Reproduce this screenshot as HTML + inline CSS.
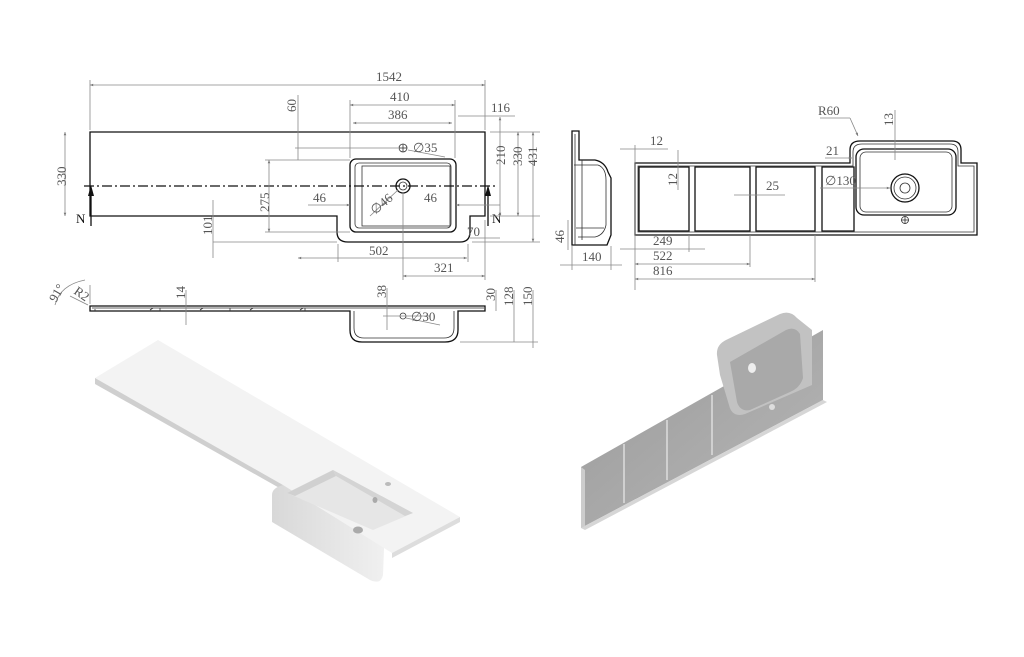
<!DOCTYPE html>
<html><head><meta charset="utf-8"><style>
html,body{margin:0;padding:0;background:#fff;}
svg{display:block;}
text{font-family:"Liberation Serif",serif;font-size:13px;fill:#555;}
.d{stroke:#888;stroke-width:0.8;fill:none;}
.o{stroke:#111;stroke-width:1.3;fill:none;}
.t{stroke:#333;stroke-width:0.8;fill:none;}
</style></head><body>
<svg width="1024" height="657" viewBox="0 0 1024 657" xmlns="http://www.w3.org/2000/svg">
<defs>
<marker id="a" viewBox="0 0 10 10" refX="10" refY="5" markerWidth="6" markerHeight="4" orient="auto-start-reverse"><path d="M0,1L10,5L0,9z" fill="#777"/></marker>
<linearGradient id="g1" x1="0" y1="0" x2="1" y2="0"><stop offset="0" stop-color="#d8d8d8"/><stop offset="1" stop-color="#f0f0f0"/></linearGradient>
<linearGradient id="g2" x1="0" y1="0" x2="1" y2="1"><stop offset="0" stop-color="#999"/><stop offset="1" stop-color="#b8b8b8"/></linearGradient>
</defs>

<!-- TOP PLAN VIEW -->
<path class="o" d="M90,132 H485 V216 H470 V232 Q470,242 460,242 H348 Q337,242 337,232 V216 H90 Z"/>
<rect class="o" x="350" y="159" width="106" height="73" rx="6"/>
<rect class="t" x="355" y="163" width="96" height="65" rx="4"/>
<rect class="t" x="362" y="166" width="88" height="60"/>
<circle class="o" cx="403" cy="186" r="7"/><circle class="t" cx="403" cy="186" r="4"/>
<circle class="t" cx="403" cy="148" r="4"/><line class="t" x1="399" y1="148" x2="407" y2="148"/><line class="t" x1="403" y1="144" x2="403" y2="152"/>
<line x1="84" y1="186" x2="496" y2="186" stroke="#111" stroke-width="1.2" stroke-dasharray="10,3,2,3"/>
<path d="M91,226 V190" stroke="#111" stroke-width="1.3"/><path d="M88,196 L91,185 L94,196z" fill="#111"/>
<path d="M488,226 V190" stroke="#111" stroke-width="1.3"/><path d="M485,196 L488,185 L491,196z" fill="#111"/>
<text x="76" y="223" style="fill:#111">N</text><text x="492" y="223" style="fill:#111">N</text>
<!-- dims -->
<line class="d" x1="90" y1="80" x2="90" y2="130"/><line class="d" x1="485" y1="80" x2="485" y2="130"/>
<line class="d" x1="90" y1="85" x2="485" y2="85" marker-start="url(#a)" marker-end="url(#a)"/><text x="376" y="81">1542</text>
<line class="d" x1="350" y1="100" x2="350" y2="158"/><line class="d" x1="455" y1="100" x2="455" y2="158"/>
<line class="d" x1="350" y1="105" x2="455" y2="105" marker-start="url(#a)" marker-end="url(#a)"/><text x="390" y="101">410</text>
<line class="d" x1="353" y1="123" x2="452" y2="123" marker-start="url(#a)" marker-end="url(#a)"/><text x="388" y="119">386</text>
<line class="d" x1="458" y1="116" x2="515" y2="116"/><text x="491" y="112">116</text>
<line class="d" x1="298" y1="95" x2="298" y2="160"/><text transform="translate(296,112) rotate(-90)">60</text>
<line class="d" x1="295" y1="148" x2="398" y2="148"/>
<line class="d" x1="408" y1="150" x2="445" y2="157"/><text x="413" y="152">∅35</text>
<line class="d" x1="65" y1="132" x2="65" y2="216" marker-start="url(#a)" marker-end="url(#a)"/><text transform="translate(66,186) rotate(-90)">330</text>
<line class="d" x1="269" y1="160" x2="269" y2="232" marker-start="url(#a)" marker-end="url(#a)"/><text transform="translate(269,212) rotate(-90)">275</text>
<line class="d" x1="265" y1="160" x2="350" y2="160"/><line class="d" x1="265" y1="232" x2="350" y2="232"/>
<line class="d" x1="213" y1="200" x2="213" y2="258"/><line class="d" x1="213" y1="242" x2="337" y2="242"/><text transform="translate(212,235) rotate(-90)">101</text>
<line class="d" x1="308" y1="205" x2="350" y2="205" marker-end="url(#a)"/><text x="313" y="202">46</text>
<line class="d" x1="456" y1="205" x2="500" y2="205" marker-start="url(#a)"/><text x="424" y="202">46</text>
<line class="d" x1="370" y1="216" x2="398" y2="190"/><text transform="translate(375,215) rotate(-40)">∅46</text>
<line class="d" x1="298" y1="258" x2="467" y2="258" marker-start="url(#a)" marker-end="url(#a)"/><line class="d" x1="338" y1="244" x2="338" y2="262"/><line class="d" x1="468" y1="244" x2="468" y2="262"/><text x="369" y="255">502</text>
<line class="d" x1="403" y1="192" x2="403" y2="280"/><line class="d" x1="485" y1="220" x2="485" y2="280"/>
<line class="d" x1="403" y1="276" x2="485" y2="276" marker-start="url(#a)" marker-end="url(#a)"/><text x="434" y="272">321</text>
<line class="d" x1="470" y1="238" x2="500" y2="238"/><text x="467" y="236">70</text>
<line class="d" x1="500" y1="117" x2="500" y2="216" marker-start="url(#a)" marker-end="url(#a)"/><text transform="translate(505,165) rotate(-90)">210</text>
<line class="d" x1="518" y1="132" x2="518" y2="216" marker-start="url(#a)" marker-end="url(#a)"/><text transform="translate(522,166) rotate(-90)">330</text>
<line class="d" x1="533" y1="132" x2="533" y2="242" marker-start="url(#a)" marker-end="url(#a)"/><text transform="translate(537,166) rotate(-90)">431</text>
<line class="d" x1="490" y1="132" x2="540" y2="132"/><line class="d" x1="490" y1="216" x2="540" y2="216"/><line class="d" x1="472" y1="242" x2="540" y2="242"/>

<!-- SIDE VIEW -->
<path class="o" d="M90,306 H485 V311 H458 V330 Q458,342 445,342 H362 Q350,342 350,330 V311 H90 Z"/>
<path class="t" d="M92,308 H484 M95,311 V309 M150,310 l3,-2 M200,310 l3,-2 M250,310 l3,-2 M300,310 l3,-2 M160,311 v-3 M230,311 v-3 M305,311 v-3"/>
<path class="t" d="M354,311 V328 Q354,338 364,338 H444 Q454,338 454,328 V311"/>
<circle class="t" cx="403" cy="316" r="3"/>
<line class="d" x1="90" y1="285" x2="90" y2="304"/><path class="d" d="M55,305 Q60,285 85,280"/>
<line class="d" x1="70" y1="296" x2="88" y2="305"/>
<text transform="translate(56,303) rotate(-60)">91°</text><text transform="translate(73,293) rotate(35)">R2</text>
<line class="d" x1="186" y1="290" x2="186" y2="325"/><text transform="translate(185,299) rotate(-90)">14</text>
<line class="d" x1="387" y1="288" x2="387" y2="330"/><text transform="translate(386,298) rotate(-90)">38</text>
<line class="d" x1="383" y1="316" x2="430" y2="316"/><line class="d" x1="406" y1="318" x2="440" y2="325"/><text x="411" y="321">∅30</text>
<line class="d" x1="496" y1="290" x2="496" y2="311"/><text transform="translate(495,301) rotate(-90)">30</text>
<line class="d" x1="514" y1="290" x2="514" y2="342"/><text transform="translate(513,306) rotate(-90)">128</text>
<line class="d" x1="533" y1="290" x2="533" y2="348"/><text transform="translate(532,306) rotate(-90)">150</text>
<line class="d" x1="460" y1="342" x2="538" y2="342"/>

<!-- RIGHT SECTION -->
<path class="o" d="M572,131 H579 V160 H595 Q605,162 608,172 L611,178 V235 L607,245 H572 Z"/>
<path class="t" d="M575,134 V245 M574,165 H598 Q606,168 606,180 V225 Q604,235 595,237 H578 M582,160 V240 M576,228 H604"/>
<line class="d" x1="568" y1="220" x2="568" y2="250"/><text transform="translate(564,243) rotate(-90)">46</text>
<line class="d" x1="572" y1="246" x2="572" y2="270"/><line class="d" x1="611" y1="246" x2="611" y2="270"/>
<line class="d" x1="560" y1="265" x2="622" y2="265"/><text x="582" y="261">140</text>

<!-- RIGHT PLAN -->
<path class="o" d="M635,163 H850 V150 Q850,141 860,141 H952 Q961,141 961,150 V163 H977 V235 H635 Z"/>
<path class="t" d="M638,166 H853 V152 Q853,144 862,144 H950 Q958,144 958,152 V166 H974 V232 H638 Z"/>
<rect class="o" x="639" y="167" width="50" height="64"/>
<rect class="o" x="695" y="167" width="55" height="64"/>
<rect class="o" x="756" y="167" width="59" height="64"/>
<path class="o" d="M822,167 H854 V231 H822 Z"/>
<rect class="o" x="856" y="149" width="100" height="66" rx="8"/>
<rect class="t" x="860" y="152" width="92" height="60" rx="6"/>
<circle class="o" cx="905" cy="188" r="14"/><circle class="t" cx="905" cy="188" r="11"/><circle class="t" cx="905" cy="188" r="5"/>
<circle class="t" cx="905" cy="220" r="3.5"/><line class="t" x1="901" y1="220" x2="909" y2="220"/><line class="t" x1="905" y1="216" x2="905" y2="224"/>
<line class="d" x1="620" y1="149" x2="668" y2="149"/><text x="650" y="145">12</text>
<line class="d" x1="635" y1="145" x2="635" y2="290"/>
<line class="d" x1="678" y1="150" x2="678" y2="190"/><text transform="translate(677,186) rotate(-90)">12</text>
<line class="d" x1="734" y1="195" x2="785" y2="195"/><text x="766" y="190">25</text>
<line class="d" x1="820" y1="188" x2="890" y2="188" marker-end="url(#a)"/><text x="825" y="185">∅130</text>
<line class="d" x1="820" y1="118" x2="850" y2="118"/><line class="d" x1="850" y1="118" x2="858" y2="136" marker-end="url(#a)"/><text x="818" y="115">R60</text>
<line class="d" x1="895" y1="110" x2="895" y2="160"/><text transform="translate(893,126) rotate(-90)">13</text>
<line class="d" x1="825" y1="158" x2="852" y2="158" marker-end="url(#a)"/><text x="826" y="155">21</text>
<line class="d" x1="689" y1="235" x2="689" y2="252"/><line class="d" x1="750" y1="235" x2="750" y2="267"/><line class="d" x1="815" y1="235" x2="815" y2="282"/>
<line class="d" x1="620" y1="249" x2="705" y2="249"/><text x="653" y="245">249</text>
<line class="d" x1="635" y1="264" x2="750" y2="264" marker-start="url(#a)" marker-end="url(#a)"/><text x="653" y="260">522</text>
<line class="d" x1="635" y1="279" x2="815" y2="279" marker-start="url(#a)" marker-end="url(#a)"/><text x="653" y="275">816</text>

<!-- 3D LEFT -->
<path d="M95,378 L158,340 L460,517 L392,553 L384,548 L383,556 L283,502 L283,485 Z" fill="#f3f3f3"/>
<path d="M95,378 L283,485 L283,490 L95,384 Z" fill="#cfcfcf"/>
<path d="M460,517 L460,522 L392,558 L392,553 Z" fill="#ddd"/>
<path d="M272,495 Q272,488 283,485 L384,548 L383,575 Q381,585 370,580 L272,522 Z" fill="url(#g1)"/>
<path d="M287,493 L333,470 L413,513 L373,530 Z" fill="#e6e6e6"/>
<path d="M287,493 L333,470 L336,476 L295,496 Z" fill="#d0d0d0"/>
<path d="M333,470 L413,513 L405,516 L336,476 Z" fill="#d4d4d4"/>
<ellipse cx="358" cy="530" rx="5" ry="3.5" fill="#aaa"/><ellipse cx="375" cy="500" rx="2.5" ry="3" fill="#aaa"/><ellipse cx="388" cy="484" rx="3" ry="2" fill="#bbb"/>

<!-- 3D RIGHT -->
<path d="M581,467 L823,330 L823,400 L581,528 Z" fill="url(#g2)"/>
<path d="M581,467 L581,528 L585,527 L585,470 Z" fill="#ccc"/>
<path d="M585,530 L827,402 L823,400 L581,528 Z" fill="#d6d6d6"/>
<line x1="624" y1="444" x2="624" y2="503" stroke="#ddd" stroke-width="1.5"/>
<line x1="667" y1="420" x2="667" y2="480" stroke="#ddd" stroke-width="1.5"/>
<line x1="712" y1="395" x2="712" y2="455" stroke="#ddd" stroke-width="1.5"/>
<path d="M717,355 Q716,345 726,340 L780,314 Q790,310 797,318 L812,330 L812,385 L745,414 Q732,418 729,405 L720,375 Z" fill="#c2c2c2"/>
<path d="M730,362 L786,330 Q795,326 800,334 L803,378 Q800,388 790,392 L750,410 Q740,412 737,402 Z" fill="#a9a9a9"/>
<ellipse cx="752" cy="368" rx="4" ry="5" fill="#eee"/><ellipse cx="772" cy="407" rx="3" ry="3" fill="#ddd"/>
</svg>
</body></html>
